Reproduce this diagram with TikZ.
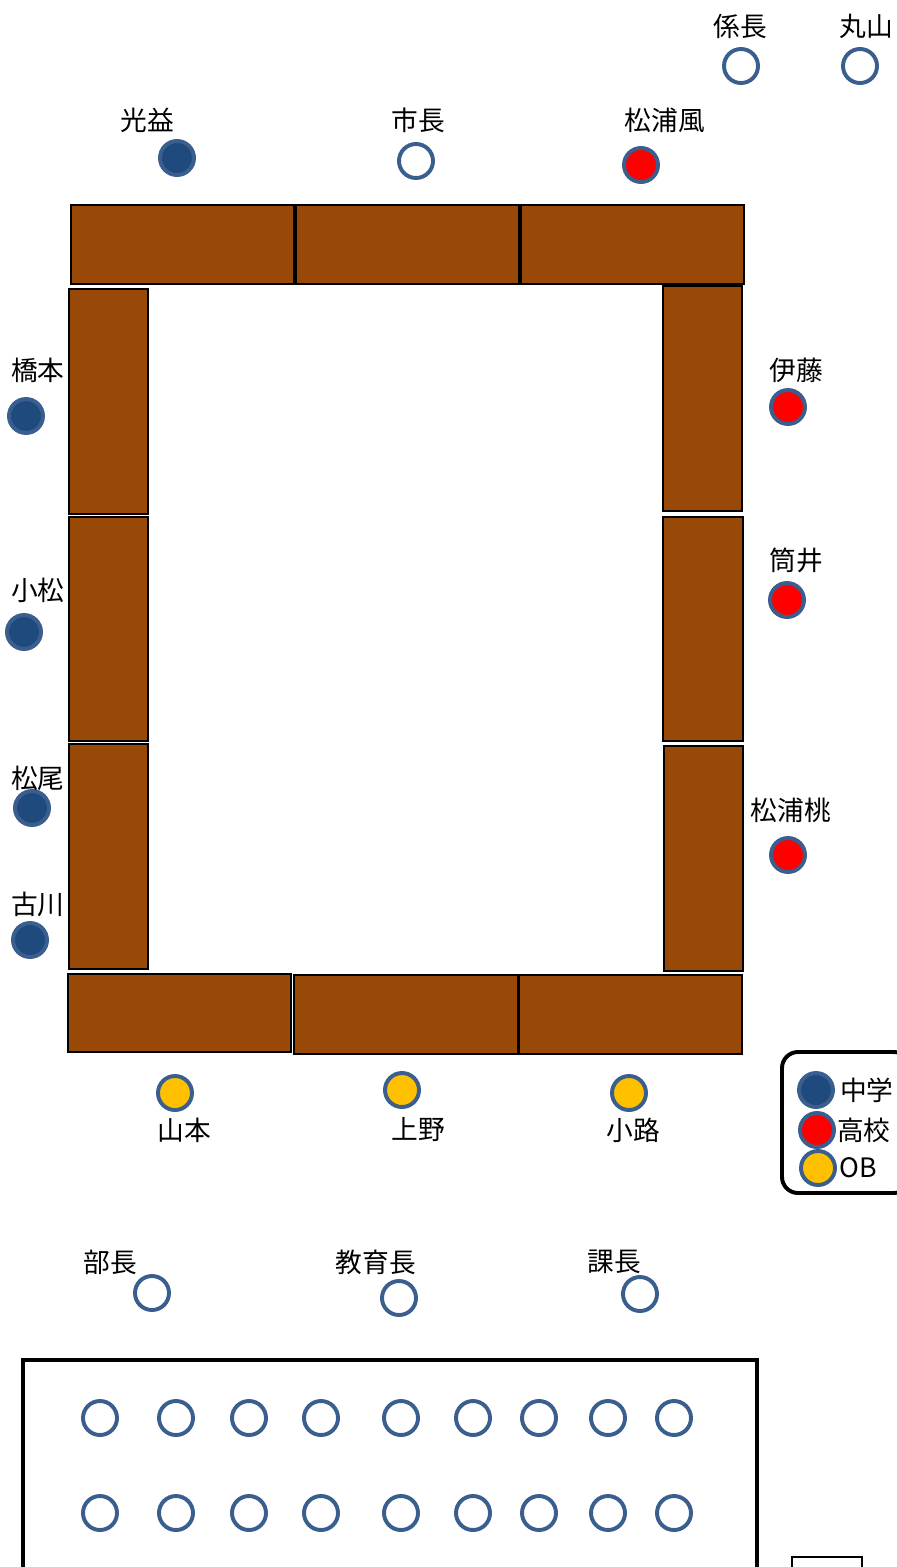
\documentclass[tikz,border=0pt]{standalone}
\usepackage{fontspec}
\setmainfont{Noto Sans CJK JP}
\usepackage{xcolor}
\usetikzlibrary{positioning}
\definecolor{deskbrown}{HTML}{984807}
\definecolor{ringblue}{HTML}{3A5F8E}
\definecolor{jhsblue}{HTML}{1F4A7D}
\definecolor{hsred}{HTML}{FF0000}
\definecolor{obyellow}{HTML}{FFC000}
\tikzset{
  desk/.style={draw=black, fill=deskbrown, line width=1.4pt},
  seat/.style={circle, draw=ringblue, line width=2.8pt, minimum size=0.85cm, inner sep=0pt},
  jhsseat/.style={seat, fill=jhsblue},
  hsseat/.style={seat, fill=hsred},
  obseat/.style={seat, fill=obyellow},
  tag/.style={inner sep=0pt, font=\fontsize{19pt}{21pt}\selectfont}
}

\begin{document}
\begin{tikzpicture}[x=0.025cm, y=-0.025cm]
    \useasboundingbox (0,0) rectangle (896,1567);

    % desks
    \draw [desk] (71,205) rectangle (294,284);
    \draw [desk] (296,205) rectangle (519,284);
    \draw [desk] (521,205) rectangle (744,284);
    \draw [desk] (69,289) rectangle (148,514);
    \draw [desk] (69,517) rectangle (148,741);
    \draw [desk] (69,744) rectangle (148,969);
    \draw [desk] (663,286) rectangle (742,511);
    \draw [desk] (663,517) rectangle (743,741);
    \draw [desk] (664,746) rectangle (743,971);
    \draw [desk] (68,974) rectangle (291,1052);
    \draw [desk] (294,975) rectangle (518,1054);
    \draw [desk] (519,975) rectangle (742,1054);

    % top
    \node (kakaricho) [seat] at (741,66) {};
    \node (kakarichoL) [tag] at (740,26) {係長};
    \node (maruyama) [seat] at (860,66) {};
    \node (maruyamaL) [tag] at (866,26) {丸山};
    \node (mitsumasu) [jhsseat] at (177,158) {};
    \node (mitsumasuL) [tag] at (147,120) {光益};
    \node (shicho) [seat] at (416,161) {};
    \node (shichoL) [tag] at (418,120) {市長};
    \node (matsuuraF) [hsseat] at (641,165) {};
    \node (matsuuraFL) [tag] at (665,120) {松浦風};

    % left side
    \node (hashimoto) [jhsseat] at (26,416) {};
    \node (hashimotoL) [tag] at (38,370) {橋本};
    \node (komatsu) [jhsseat] at (24,632) {};
    \node (komatsuL) [tag] at (38,590) {小松};
    \node (matsuo) [jhsseat] at (32,808) {};
    \node (matsuoL) [tag] at (38,778) {松尾};
    \node (furukawa) [jhsseat] at (30,940) {};
    \node (furukawaL) [tag] at (38,904) {古川};

    % right side
    \node (ito) [hsseat] at (788,407) {};
    \node (itoL) [tag] at (796,370) {伊藤};
    \node (tsutsui) [hsseat] at (787,600) {};
    \node (tsutsuiL) [tag] at (796,560) {筒井};
    \node (matsuuraM) [hsseat] at (788,855) {};
    \node (matsuuraML) [tag] at (791,810) {松浦桃};

    % bottom
    \node (yamamoto) [obseat] at (175,1093) {};
    \node (yamamotoL) [tag] at (184,1130) {山本};
    \node (ueno) [obseat] at (402,1090) {};
    \node (uenoL) [tag] at (418,1130) {上野};
    \node (komichi) [obseat] at (629,1093) {};
    \node (komichiL) [tag] at (633,1130) {小路};

    % legend
    \draw [line width=2.8pt, rounded corners=0.4cm] (782,1052) rectangle (910,1193);
    \node (legJ) [jhsseat] at (816,1090) {};
    \node (legJL) [tag, right=0.12cm of legJ] {中学};
    \node (legH) [hsseat] at (817,1130) {};
    \node (legHL) [tag, right=0.02cm of legH] {高校};
    \node (legO) [obseat] at (818,1168) {};
    \node (legOL) [tag, right=0.05cm of legO] {OB};

    % guests
    \node (bucho) [seat] at (152,1293) {};
    \node (buchoL) [tag] at (110,1262) {部長};
    \node (kyoikucho) [seat] at (399,1298) {};
    \node (kyoikuchoL) [tag] at (376,1262) {教育長};
    \node (kacho) [seat] at (640,1294) {};
    \node (kachoL) [tag] at (614,1262) {課長};

    % audience
    \draw [line width=2.8pt] (23,1600) -- (23,1360) -- (757,1360) -- (757,1600);
    \foreach \x [count=\i] in {100,176,249,321,401,473,539,608,674} {
        \node (front\i) [seat] at (\x,1418) {};
        \node (back\i) [seat] at (\x,1513) {};
    }
    \draw [line width=2pt] (792,1600) -- (792,1557) -- (862,1557) -- (862,1600);
\end{tikzpicture}
\end{document}
